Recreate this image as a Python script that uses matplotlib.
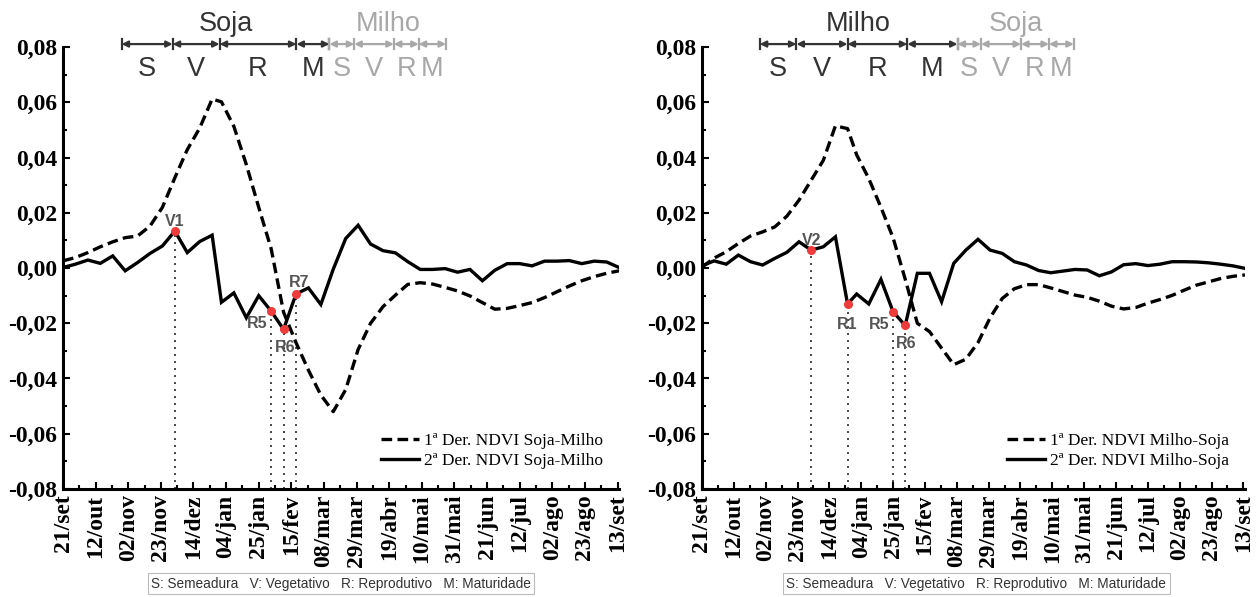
import matplotlib.pyplot as plt
import numpy as np
from matplotlib.ticker import FuncFormatter, MultipleLocator

plt.rcParams['axes.unicode_minus'] = False

# dias desde 21/set (compostos de 8 dias, com quebra na virada do ano)
dias = [0, 8, 16, 24, 32, 40, 48, 56, 64, 72, 80, 88, 96,
        102, 110, 118, 126, 134, 142, 150, 158, 166, 174, 182, 190,
        198, 206, 214, 222, 230, 238, 246, 254, 262, 270, 278, 286,
        294, 302, 310, 318, 326, 334, 342, 350, 358]

pos_x = [0, 21, 42, 63, 84, 105, 126, 147, 168, 189, 210, 231, 252, 273, 294, 315, 336, 357]
rotulos_x = ["21/set", "12/out", "02/nov", "23/nov", "14/dez", "04/jan", "25/jan", "15/fev",
             "08/mar", "29/mar", "19/abr", "10/mai", "31/mai", "21/jun", "12/jul", "02/ago",
             "23/ago", "13/set"]

# Soja-Milho
sm_d1 = [0.0026, 0.0038, 0.0056, 0.0077, 0.0095, 0.0110, 0.0116, 0.0152, 0.0220, 0.0327,
         0.0429, 0.0507, 0.0612, 0.0602, 0.0513, 0.0375, 0.0220, 0.0070, -0.0160, -0.0270,
         -0.0370, -0.0460, -0.0520, -0.0440, -0.0295, -0.0200, -0.0140, -0.0098, -0.0059, -0.0053,
         -0.0058, -0.0070, -0.0083, -0.0101, -0.0125, -0.0149, -0.0146, -0.0136, -0.0125, -0.0107,
         -0.0086, -0.0065, -0.0046, -0.0031, -0.0019, -0.0010]
sm_d2 = [0.0002, 0.0014, 0.0029, 0.0017, 0.0044, -0.0010, 0.0020, 0.0053, 0.0080, 0.0134,
         0.0056, 0.0096, 0.0119, -0.0124, -0.0090, -0.0180, -0.0100, -0.0156, -0.0222, -0.0094,
         -0.0072, -0.0132, -0.0004, 0.0107, 0.0155, 0.0087, 0.0063, 0.0055, 0.0023, -0.0005,
         -0.0005, -0.0002, -0.0015, -0.0005, -0.0046, -0.0008, 0.0016, 0.0016, 0.0008, 0.0025,
         0.0025, 0.0027, 0.0016, 0.0025, 0.0022, 0.0002]

# Milho-Soja
ms_d1 = [0.0003, 0.0036, 0.0059, 0.0089, 0.0116, 0.0131, 0.0149, 0.0188, 0.0246, 0.0318,
         0.0390, 0.0515, 0.0505, 0.0410, 0.0324, 0.0220, 0.0110, -0.0040, -0.0200, -0.0230,
         -0.0290, -0.0350, -0.0330, -0.0270, -0.0180, -0.0110, -0.0075, -0.0060, -0.0060, -0.0072,
         -0.0085, -0.0098, -0.0106, -0.0120, -0.0138, -0.0148, -0.0143, -0.0127, -0.0114, -0.0099,
         -0.0080, -0.0062, -0.0050, -0.0038, -0.0030, -0.0025]
ms_d2 = [0.0008, 0.0026, 0.0014, 0.0047, 0.0023, 0.0011, 0.0035, 0.0057, 0.0095, 0.0065,
         0.0077, 0.0113, -0.0130, -0.0094, -0.0130, -0.0041, -0.0158, -0.0208, -0.0019, -0.0019,
         -0.0122, 0.0017, 0.0065, 0.0104, 0.0065, 0.0053, 0.0023, 0.0011, -0.0009, -0.0017,
         -0.0011, -0.0005, -0.0007, -0.0028, -0.0014, 0.0012, 0.0016, 0.0009, 0.0014, 0.0023,
         0.0023, 0.0022, 0.0019, 0.0014, 0.0008, -0.0001]

# pontos marcados (indice na serie da 2a derivada)
pts_esq = ["V1", "R5", "R6", "R7"]
idx_esq = [9, 17, 18, 19]
off_esq = [(0, 7), (-10, -9), (1, -13), (2, 8)]
pts_dir = ["V2", "R1", "R5", "R6"]
idx_dir = [9, 12, 16, 17]
off_dir = [(0, 7), (0, -15), (-10, -9), (1, -13)]

# limites das fases (dias) - S, V, R, M
fases_esq_1 = [37.7, 70.6, 100.8, 150.3, 171.5]
fases_esq_2 = [171.5, 187.5, 213.0, 229.0, 246.6]
fases_dir_1 = [38.1, 62.3, 96.0, 135.4, 168.5]
fases_dir_2 = [168.5, 184.0, 210.4, 228.8, 245.2]
letras = ["S", "V", "R", "M"]

escuro = "#333333"
claro = "#a8a8a8"
vermelho = "#ee3b3b"


def fases(ax, limites, cultura, cor):
    tr = ax.get_xaxis_transform()
    y = 1.007
    for i in range(4):
        x1, x2 = limites[i], limites[i + 1]
        ax.annotate("", xy=(x2, y), xytext=(x1, y), xycoords=tr, textcoords=tr,
                    arrowprops=dict(arrowstyle="<|-|>", color=cor, lw=1.6,
                                    shrinkA=0, shrinkB=0, mutation_scale=9),
                    annotation_clip=False)
        ax.text((x1 + x2) / 2, 0.950, letras[i], transform=tr, ha="center", va="center",
                fontsize=19.5, color=cor, family="Liberation Sans")
    for x in limites:
        ax.plot([x, x], [y - 0.012, y + 0.012], transform=tr, color=cor, lw=1.6, clip_on=False)
    ax.text((limites[0] + limites[-1]) / 2, 1.052, cultura, transform=tr, ha="center",
            va="center", fontsize=19.5, color=cor, family="Liberation Sans")


def painel(ax, d1, d2, nome, pts, idx, offs, f1, f2, c1, c2):
    ax.plot(dias, d1, color="black", lw=2.4, ls=(0, (3.2, 1.6)), label="1ª Der. NDVI " + nome)
    ax.plot(dias, d2, color="black", lw=2.4, label="2ª Der. NDVI " + nome,
            solid_joinstyle="miter")
    for nm, i, off in zip(pts, idx, offs):
        ax.plot([dias[i], dias[i]], [-0.08, d2[i]], color="#444444", lw=1.4,
                ls=(0, (1, 2.6)), zorder=1)
        ax.plot(dias[i], d2[i], "o", color=vermelho, ms=5.5, zorder=5)
        ax.annotate(nm, (dias[i], d2[i]), xytext=off, textcoords="offset points",
                    ha="center", va="center", fontsize=11.5, fontweight="bold",
                    color="#555555", family="Liberation Sans", zorder=6)

    ax.set_xlim(0, 358)
    ax.set_ylim(-0.08, 0.08)
    ax.set_xticks(pos_x)
    ax.set_xticklabels(rotulos_x, rotation=90)
    ax.xaxis.set_minor_locator(MultipleLocator(10.5))
    ax.yaxis.set_major_locator(MultipleLocator(0.02))
    ax.yaxis.set_minor_locator(MultipleLocator(0.01))
    ax.yaxis.set_major_formatter(FuncFormatter(lambda v, p: f"{v:.2f}".replace(".", ",")))
    for lab in ax.get_xticklabels() + ax.get_yticklabels():
        lab.set_family("Liberation Serif")
        lab.set_fontweight("bold")
        lab.set_fontsize(17)
    ax.tick_params(which="major", direction="in", length=5, width=1.5, pad=4)
    ax.tick_params(which="minor", direction="in", length=3, width=1.5)
    ax.spines["top"].set_visible(False)
    ax.spines["right"].set_visible(False)
    ax.spines["left"].set_linewidth(2.2)
    ax.spines["bottom"].set_linewidth(2.2)

    ax.legend(loc="lower right", bbox_to_anchor=(1.0, 0.01), frameon=False,
              handlelength=2.2, handletextpad=0.3, labelspacing=0.2,
              prop={"family": "Liberation Serif", "size": 12.5})
    fases(ax, f1, c1[0], escuro)
    fases(ax, f2, c2[0], claro)


fig = plt.figure(figsize=(12.58, 5.97), dpi=100)
ax1 = fig.add_axes([0.0501, 0.181, 0.442, 0.740])
ax2 = fig.add_axes([0.558, 0.181, 0.4316, 0.740])

painel(ax1, sm_d1, sm_d2, "Soja-Milho", pts_esq, idx_esq, off_esq,
       fases_esq_1, fases_esq_2, ["Soja"], ["Milho"])
painel(ax2, ms_d1, ms_d2, "Milho-Soja", pts_dir, idx_dir, off_dir,
       fases_dir_1, fases_dir_2, ["Milho"], ["Soja"])

legenda = "S: Semeadura   V: Vegetativo   R: Reprodutivo   M: Maturidade"
for xc in [0.271, 0.776]:
    fig.text(xc, 0.022, legenda, ha="center", va="center", fontsize=9.8,
             family="Liberation Sans", color="#333333",
             bbox=dict(boxstyle="square,pad=0.25", fc="white", ec="#bbbbbb", lw=0.8))

fig.savefig("out.png", dpi=100)
